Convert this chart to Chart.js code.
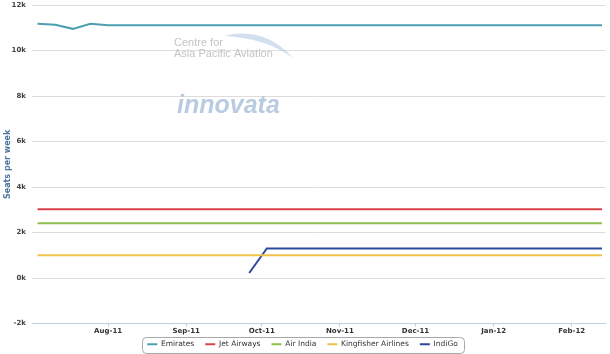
<!DOCTYPE html>
<html>
<head>
<meta charset="utf-8">
<script src="https://cdn.jsdelivr.net/npm/chart.js@4"></script>
<style>
  html, body { margin: 0; padding: 0; background: #fff; }
  #wrap { width: 610px; height: 354px; position: relative; }
</style>
</head>
<body>
<div id="wrap"><canvas id="chartSeats"></canvas></div>
<script>
// weekly data points (week starting)
const weeks = [
  '2011-07-04', '2011-07-11', '2011-07-18', '2011-07-25',
  '2011-08-01', '2011-08-08', '2011-08-15', '2011-08-22', '2011-08-29',
  '2011-09-05', '2011-09-12', '2011-09-19', '2011-09-26',
  '2011-10-03', '2011-10-10', '2011-10-17', '2011-10-24', '2011-10-31',
  '2011-11-07', '2011-11-14', '2011-11-21', '2011-11-28',
  '2011-12-05', '2011-12-12', '2011-12-19', '2011-12-26',
  '2012-01-02', '2012-01-09', '2012-01-16', '2012-01-23', '2012-01-30',
  '2012-02-06', '2012-02-13'
];

const emirates = [
  11180, 11135, 10960, 11180, 11120, 11120, 11120, 11120, 11120,
  11120, 11120, 11120, 11120, 11120, 11120, 11120, 11120, 11120,
  11120, 11120, 11120, 11120, 11120, 11120, 11120, 11120,
  11120, 11120, 11120, 11120, 11120, 11120, 11120
];
const jetAirways = [
  3030, 3030, 3030, 3030, 3030, 3030, 3030, 3030, 3030, 3030, 3030,
  3030, 3030, 3030, 3030, 3030, 3030, 3030, 3030, 3030, 3030, 3030,
  3030, 3030, 3030, 3030, 3030, 3030, 3030, 3030, 3030, 3030, 3030
];
const airIndia = [
  2410, 2410, 2410, 2410, 2410, 2410, 2410, 2410, 2410, 2410, 2410,
  2410, 2410, 2410, 2410, 2410, 2410, 2410, 2410, 2410, 2410, 2410,
  2410, 2410, 2410, 2410, 2410, 2410, 2410, 2410, 2410, 2410, 2410
];
const kingfisher = [
  1000, 1000, 1000, 1000, 1000, 1000, 1000, 1000, 1000, 1000, 1000,
  1000, 1000, 1000, 1000, 1000, 1000, 1000, 1000, 1000, 1000, 1000,
  1000, 1000, 1000, 1000, 1000, 1000, 1000, 1000, 1000, 1000, 1000
];
const indigo = [
  null, null, null, null, null, null, null, null, null, null, null, null,
  220, 1300, 1300, 1300, 1300, 1300, 1300, 1300, 1300, 1300, 1300,
  1300, 1300, 1300, 1300, 1300, 1300, 1300, 1300, 1300, 1300
];

const monthTicks = ['2011-08-01', '2011-09-01', '2011-10-01', '2011-11-01', '2011-12-01', '2012-01-01', '2012-02-01'];
const monthLabels = ['Aug-11', 'Sep-11', 'Oct-11', 'Nov-11', 'Dec-11', 'Jan-12', 'Feb-12'];

// days since first week
const t0 = Date.parse(weeks[0]);
const dayOf = d => (Date.parse(d) - t0) / 86400000;
const xs = weeks.map(dayOf);
const pts = arr => arr.map((v, i) => ({ x: xs[i], y: v }));

const lineSet = (label, arr, color) => ({
  label: label,
  data: pts(arr),
  borderColor: color,
  backgroundColor: color,
  borderWidth: 2,
  pointRadius: 0,
  pointHoverRadius: 0,
  tension: 0,
  spanGaps: false
});

// watermark (Centre for Asia Pacific Aviation / innovata)
const watermark = {
  id: 'watermark',
  beforeDatasetsDraw(chart) {
    const c = chart.ctx;
    c.save();
    // swoosh
    c.fillStyle = 'rgba(190,210,232,0.7)';
    c.beginPath();
    c.moveTo(224, 36);
    c.quadraticCurveTo(264, 26, 293, 58);
    c.quadraticCurveTo(266, 38, 224, 36);
    c.fill();
    c.fillStyle = '#c4c4c4';
    c.font = '11px "Liberation Sans", Arial, sans-serif';
    c.textBaseline = 'alphabetic';
    c.fillText('Centre for', 174, 46);
    c.fillText('Asia Pacific Aviation', 174, 57);
    c.fillStyle = '#b9cbe0';
    c.font = 'italic bold 25px "Liberation Sans", Arial, sans-serif';
    c.fillText('innovata', 177, 113);
    c.restore();
  }
};

// rounded border round the legend
const legendBox = {
  id: 'legendBox',
  afterDraw(chart) {
    const lg = chart.legend;
    if (!lg || !lg.legendHitBoxes || !lg.legendHitBoxes.length) return;
    const hb = lg.legendHitBoxes;
    const l = Math.min(...hb.map(b => b.left)) - 5;
    const r = Math.max(...hb.map(b => b.left + b.width)) + 6;
    const t = Math.min(...hb.map(b => b.top)) - 4;
    const b = Math.max(...hb.map(b => b.top + b.height)) + 4;
    const c = chart.ctx;
    c.save();
    c.strokeStyle = '#a8a8a8';
    c.lineWidth = 1;
    c.beginPath();
    c.roundRect(Math.round(l) + 0.5, Math.round(t) + 0.5, Math.round(r - l), Math.round(b - t), 4);
    c.stroke();
    c.restore();
  }
};

new Chart(document.getElementById('chartSeats'), {
  type: 'line',
  data: {
    datasets: [
      lineSet('Emirates', emirates, '#4c9fb1'),
      lineSet('Jet Airways', jetAirways, '#d9404a'),
      lineSet('Air India', airIndia, '#8fbf4d'),
      lineSet('Kingfisher Airlines', kingfisher, '#efc24a'),
      lineSet('IndiGo', indigo, '#2d4b9c')
    ]
  },
  options: {
    responsive: true,
    maintainAspectRatio: false,
    animation: false,
    layout: { padding: { left: 0, right: 5, top: 0, bottom: -4 } },
    plugins: {
      tooltip: { enabled: false },
      legend: {
        position: 'bottom',
        labels: {
          usePointStyle: true,
          pointStyle: 'line',
          pointStyleWidth: 10,
          boxHeight: 8,
          padding: 11,
          color: '#333',
          font: { family: '"DejaVu Sans", Verdana, sans-serif', size: 7.5 }
        }
      }
    },
    scales: {
      x: {
        type: 'linear',
        min: -2.2,
        max: 225.2,
        afterBuildTicks: axis => { axis.ticks = monthTicks.map(d => ({ value: dayOf(d) })); },
        afterFit: s => {
          s.height = 6;
          s._computeLabelArea = () => undefined; // labels run below the thin axis box
        },
        ticks: {
          autoSkip: false,
          maxRotation: 0,
          padding: 0,
          color: '#333',
          font: { family: '"DejaVu Sans", Verdana, sans-serif', size: 7, weight: 'bold' },
          callback: (v, i) => monthLabels[i]
        },
        grid: { drawOnChartArea: false, tickLength: 3, color: '#c0d0e0' },
        border: { color: '#c0d0e0' }
      },
      y: {
        min: -2000,
        max: 12000,
        afterFit: s => { s.width = 32; },
        ticks: {
          stepSize: 2000,
          padding: 1,
          color: '#444',
          font: { family: '"DejaVu Sans", Verdana, sans-serif', size: 7, weight: 'bold' },
          callback: v => (v / 1000) + 'k'
        },
        grid: { color: '#dcdcdc', drawTicks: true, tickLength: 5, tickColor: 'rgba(0,0,0,0)' },
        border: { display: false },
        title: {
          display: true,
          text: 'Seats per week',
          color: '#4d759e',
          padding: { top: 3, bottom: 0 },
          font: { family: '"DejaVu Sans", Verdana, sans-serif', size: 8, weight: 'bold' }
        }
      }
    }
  },
  plugins: [watermark, legendBox]
});
</script>
</body>
</html>
